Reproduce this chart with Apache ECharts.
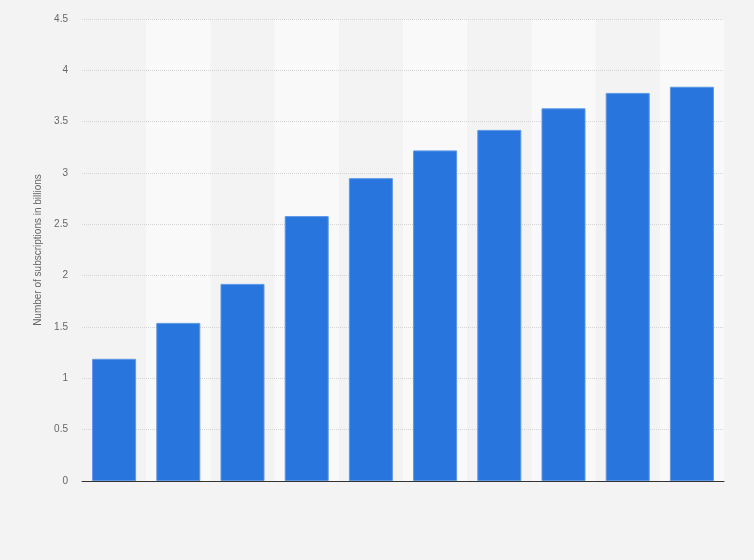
<!DOCTYPE html>
<html>
<head>
<meta charset="utf-8">
<script src="https://cdn.jsdelivr.net/npm/echarts@6/dist/echarts.min.js"></script>
<style>
html,body{margin:0;padding:0;background:#f3f3f3;}
#chart{width:754px;height:560px;}
</style>
</head>
<body>
<div id="chart"></div>
<script>
const categories = ['1','2','3','4','5','6','7','8','9','10'];
const subscriptions = [1.19, 1.54, 1.92, 2.58, 2.95, 3.22, 3.42, 3.63, 3.78, 3.84];
const yTicks = { min: 0, max: 4.5, interval: 0.5 };
const yAxisTitle = 'Number of subscriptions in billions';

const chart = echarts.init(document.getElementById('chart'));
chart.setOption({
  backgroundColor: '#f3f3f3',
  animation: false,
  grid: { left: 82, right: 30, top: 19, bottom: 79, containLabel: false },
  xAxis: {
    type: 'category',
    data: categories,
    z: 0,
    axisLine: { show: true, lineStyle: { color: '#333', width: 1 }, onZero: false },
    axisTick: { show: false },
    axisLabel: { show: false },
    splitArea: { show: true, areaStyle: { color: ['rgba(0,0,0,0)', '#f9f9f9'] } }
  },
  yAxis: {
    type: 'value',
    z: 1,
    min: yTicks.min, max: yTicks.max, interval: yTicks.interval,
    name: yAxisTitle,
    nameLocation: 'middle',
    nameGap: 36,
    nameTextStyle: { color: '#666', fontSize: 10, fontFamily: 'Arial, Liberation Sans, sans-serif' },
    axisLine: { show: false },
    axisTick: { show: false },
    axisLabel: { color: '#666', fontSize: 10, margin: 14, fontFamily: 'Arial, Liberation Sans, sans-serif' },
    splitLine: { show: true, showMinLine: false, lineStyle: { color: '#d4d4d4', type: [1, 1], width: 1 } }
  },
  series: [{
    type: 'bar',
    z: 2,
    data: subscriptions,
    barWidth: 44,
    itemStyle: { color: '#2876dd', borderColor: '#5b98e6', borderWidth: 1 }
  }]
});
</script>
</body>
</html>
